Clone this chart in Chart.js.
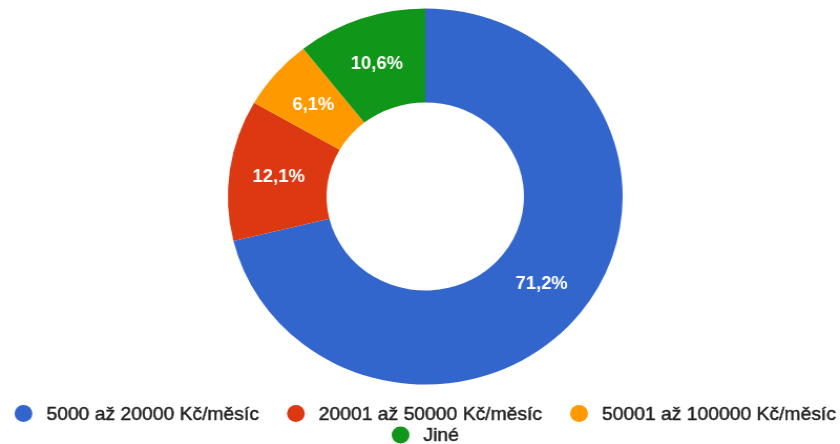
<!DOCTYPE html>
<html>
<head>
<meta charset="utf-8">
<script src="https://cdn.jsdelivr.net/npm/chart.js@4"></script>
<style>
  html, body { margin: 0; padding: 0; background: #fff; overflow: hidden; }
  #wrap { width: 800px; height: 444px; transform: scaleX(1.05); transform-origin: 0 0; }
  canvas { display: block; }
</style>
</head>
<body>
<div id="wrap"><canvas id="c" width="800" height="444"></canvas></div>
<script>
const categories = ["5000 až 20000 Kč/měsíc", "20001 až 50000 Kč/měsíc", "50001 až 100000 Kč/měsíc", "Jiné"];
const percentValues = [71.2, 12.1, 6.1, 10.6];
const sliceColors = ["#3366cc", "#dc3912", "#ff9900", "#109618"];
const legendRows = [[0, 1, 2], [3]];

const sliceLabels = {
  id: 'sliceLabels',
  afterDatasetsDraw(chart) {
    const ctx = chart.ctx;
    const meta = chart.getDatasetMeta(0);
    ctx.save();
    ctx.font = 'bold 17.5px "Liberation Sans", Arial, sans-serif';
    ctx.fillStyle = '#ffffff';
    ctx.textAlign = 'center';
    ctx.textBaseline = 'middle';
    meta.data.forEach((arc, i) => {
      const p = arc.tooltipPosition();
      const v = chart.data.datasets[0].data[i];
      ctx.fillText(v.toFixed(1).replace('.', ',') + '%', p.x, p.y + 1);
    });
    ctx.restore();
  }
};

const customLegend = {
  id: 'customLegend',
  afterDraw(chart) {
    const ctx = chart.ctx;
    const labels = chart.data.labels;
    const colors = chart.data.datasets[0].backgroundColor;
    const dot = 17, gapText = 13.3, gapItem = 26.7;
    const cx = (chart.chartArea.left + chart.chartArea.right) / 2;
    const rowY = [413.5, 435];
    ctx.save();
    ctx.font = '18.4px "Liberation Sans", Arial, sans-serif';
    legendRows.forEach((idxs, r) => {
      const row = idxs.map(i => ({ t: labels[i], c: colors[i], w: dot + gapText + ctx.measureText(labels[i]).width }));
      const total = row.reduce((s, it, k) => s + it.w + (k ? gapItem : 0), 0);
      let x = cx - total / 2;
      const y = rowY[r];
      row.forEach(it => {
        ctx.beginPath();
        ctx.fillStyle = it.c;
        ctx.arc(x + dot / 2, y, dot / 2, 0, Math.PI * 2);
        ctx.fill();
        ctx.fillStyle = '#222222';
        ctx.strokeStyle = '#222222';
        ctx.lineWidth = 0.45;
        ctx.textAlign = 'left';
        ctx.textBaseline = 'middle';
        ctx.fillText(it.t, x + dot + gapText, y + 1);
        ctx.strokeText(it.t, x + dot + gapText, y + 1);
        x += it.w + gapItem;
      });
    });
    ctx.restore();
  }
};

new Chart(document.getElementById('c'), {
  type: 'doughnut',
  data: {
    labels: categories,
    datasets: [{
      data: percentValues,
      backgroundColor: sliceColors,
      borderWidth: 0
    }]
  },
  options: {
    responsive: false,
    animation: false,
    cutout: '50%',
    layout: { padding: { top: 8.5, bottom: 59.5, left: 10, right: 0 } },
    plugins: {
      legend: { display: false },
      tooltip: { enabled: false }
    }
  },
  plugins: [sliceLabels, customLegend]
});
</script>
</body>
</html>
